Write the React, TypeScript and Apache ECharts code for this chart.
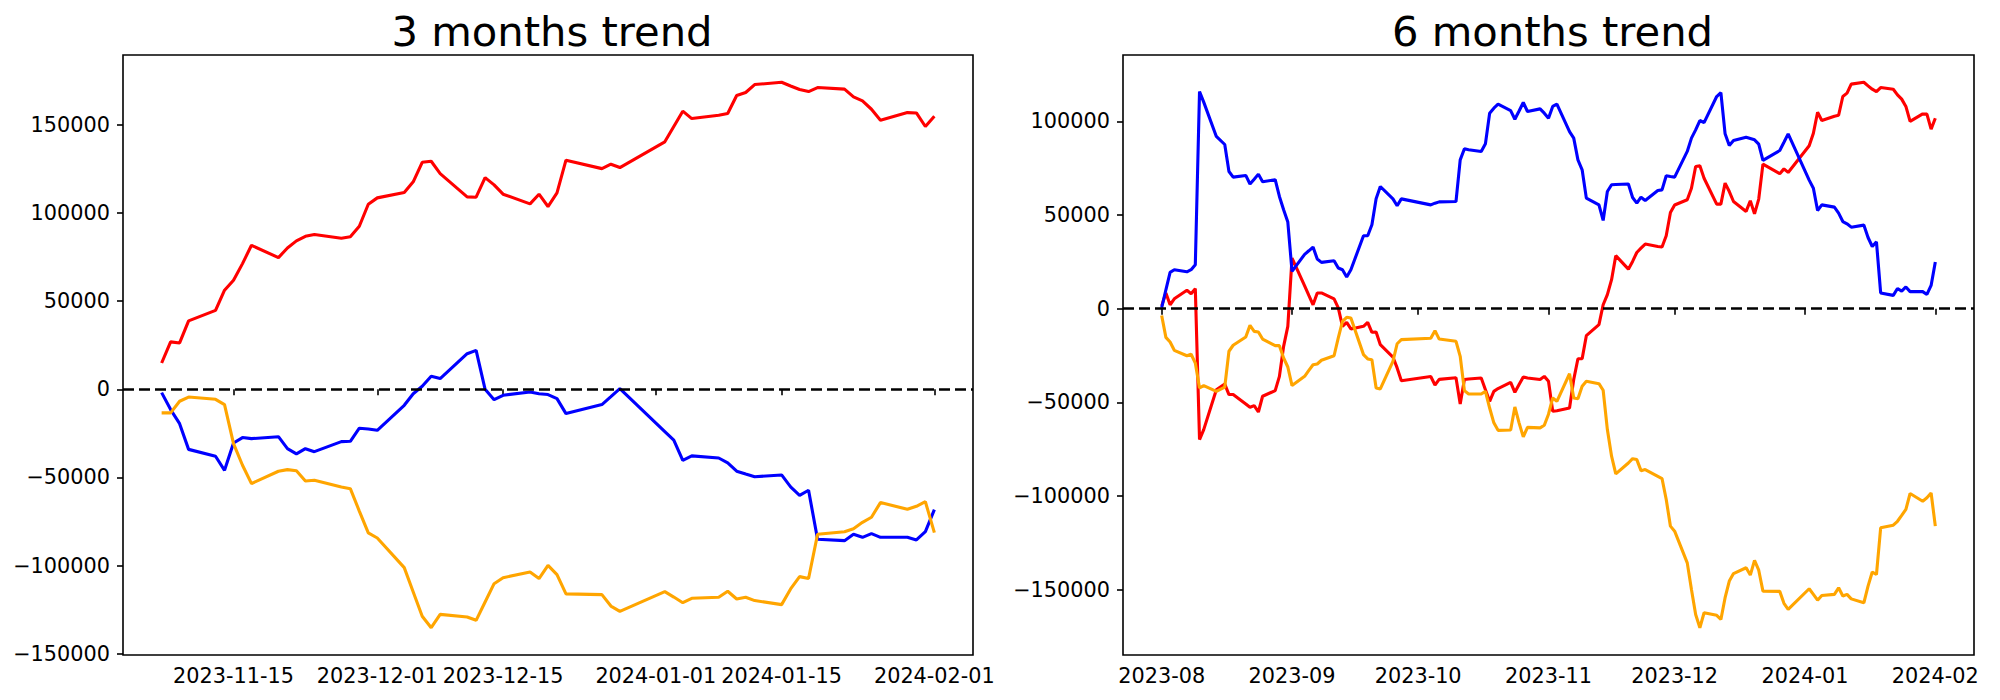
import React, { useEffect, useRef } from "react";
import * as echarts from "echarts";

// ---------- 3 months panel ----------
const leftDates = [
  "2023-11-07", "2023-11-08", "2023-11-09", "2023-11-10", "2023-11-13", "2023-11-14", "2023-11-15", "2023-11-16", "2023-11-17",
  "2023-11-20", "2023-11-21", "2023-11-22", "2023-11-23", "2023-11-24", "2023-11-27", "2023-11-28", "2023-11-29", "2023-11-30",
  "2023-12-01", "2023-12-04", "2023-12-05", "2023-12-06", "2023-12-07", "2023-12-08", "2023-12-11", "2023-12-12", "2023-12-13",
  "2023-12-14", "2023-12-15", "2023-12-18", "2023-12-19", "2023-12-20", "2023-12-21", "2023-12-22", "2023-12-26", "2023-12-27",
  "2023-12-28", "2024-01-02", "2024-01-03", "2024-01-04", "2024-01-05", "2024-01-08", "2024-01-09", "2024-01-10", "2024-01-11",
  "2024-01-12", "2024-01-15", "2024-01-16", "2024-01-17", "2024-01-18", "2024-01-19", "2024-01-22", "2024-01-23", "2024-01-24",
  "2024-01-25", "2024-01-26", "2024-01-29", "2024-01-30", "2024-01-31", "2024-02-01",
];
const leftRed = [
  14900, 26900, 26300, 38800, 44800, 56200, 61900, 71300, 81700, 74700, 80200, 84200, 86800, 87800, 85700, 86500, 92500, 105000,
  108600, 111600, 117700, 128800, 129400, 122400, 109200, 109000, 120100, 116000, 110700, 105200, 110700, 103700, 111400, 130000, 125200, 127700, 125800,
  140400, 149100, 157800, 153600, 155500, 156500, 166700, 168400, 172900, 174200, 172100, 170100, 168900, 171200, 170300, 165900, 163600, 158900, 152700, 157000, 156800, 149100,
  154900,
];
const leftBlue = [
  -1900, -11500, -19500, -34100, -38000, -46000, -30500, -27400, -28000, -26900, -33700, -36700, -33700, -35400, -29700, -29500, -22100, -22500,
  -23300, -9100, -2500, 1700, 7400, 6100, 20200, 22100, 0, -5900, -3400, -1500, -2500, -3000, -5300, -13800, -8700, -4200, 400,
  -24000, -28900, -40300, -37800, -39000, -41800, -46500, -48100, -49600, -48600, -55400, -60200, -57300, -85100, -85900, -82300, -84000, -81900, -84000, -84000, -85500, -80800,
  -68300,
];
const leftOrange = [
  -13400, -13400, -6800, -4400, -5700, -8700, -30800, -43100, -53500, -46500, -45600, -46200, -52000, -51600, -55400, -56400, -69100, -81500,
  -84400, -101200, -115000, -128800, -135300, -127700, -129200, -131100, -120700, -110300, -106900, -103700, -107400, -99900, -105200, -116100, -116500, -123000, -126000,
  -114800, -117900, -121100, -118600, -118000, -114600, -119000, -118000, -119900, -122200, -113300, -106300, -107400, -82300, -80800, -79100, -75500, -72600, -64300, -68100, -66400, -63800,
  -81300,
];
const leftXTicks = ["2023-11-15", "2023-12-01", "2023-12-15", "2024-01-01", "2024-01-15", "2024-02-01"];
const leftYTicks = [-150000, -100000, -50000, 0, 50000, 100000, 150000];

// ---------- 6 months panel ----------
const rightDates = [
  "2023-08-01", "2023-08-02", "2023-08-03", "2023-08-04", "2023-08-07", "2023-08-08", "2023-08-09", "2023-08-10", "2023-08-11",
  "2023-08-14", "2023-08-16", "2023-08-17", "2023-08-18", "2023-08-21", "2023-08-22", "2023-08-23", "2023-08-24", "2023-08-25",
  "2023-08-28", "2023-08-29", "2023-08-30", "2023-08-31",
  "2023-09-01", "2023-09-04", "2023-09-05", "2023-09-06", "2023-09-07", "2023-09-08", "2023-09-11", "2023-09-12", "2023-09-13",
  "2023-09-14", "2023-09-15", "2023-09-18", "2023-09-19", "2023-09-20", "2023-09-21", "2023-09-22", "2023-09-25", "2023-09-26",
  "2023-09-27",
  "2023-10-04", "2023-10-05", "2023-10-06", "2023-10-10", "2023-10-11", "2023-10-12", "2023-10-13", "2023-10-16", "2023-10-17",
  "2023-10-18", "2023-10-19", "2023-10-20", "2023-10-23", "2023-10-24", "2023-10-25", "2023-10-26", "2023-10-27", "2023-10-30",
  "2023-10-31",
  "2023-11-01", "2023-11-02", "2023-11-03", "2023-11-06", "2023-11-07", "2023-11-08", "2023-11-09", "2023-11-10", "2023-11-13",
  "2023-11-14", "2023-11-15", "2023-11-16", "2023-11-17", "2023-11-20", "2023-11-21", "2023-11-22", "2023-11-23", "2023-11-24",
  "2023-11-27", "2023-11-28", "2023-11-29", "2023-11-30",
  "2023-12-01", "2023-12-04", "2023-12-05", "2023-12-06", "2023-12-07", "2023-12-08", "2023-12-11", "2023-12-12", "2023-12-13",
  "2023-12-14", "2023-12-15", "2023-12-18", "2023-12-19", "2023-12-20", "2023-12-21", "2023-12-22", "2023-12-26", "2023-12-27",
  "2023-12-28",
  "2024-01-02", "2024-01-03", "2024-01-04", "2024-01-05", "2024-01-08", "2024-01-09", "2024-01-10", "2024-01-11", "2024-01-12",
  "2024-01-15", "2024-01-16", "2024-01-17", "2024-01-18", "2024-01-19", "2024-01-22", "2024-01-23", "2024-01-24", "2024-01-25",
  "2024-01-26", "2024-01-29", "2024-01-30", "2024-01-31",
  "2024-02-01",
];
const rightBlue = [
  500, 10100, 19400, 20800, 19700, 20800, 23500, 115800, 110200, 91900, 87600, 73200, 70200, 71100, 66500, 69100, 71800, 67700, 68800, 59900, 52800, 46200,
  19900, 29000, 30900, 32900, 26500, 24700, 25600, 21700, 20800, 16900, 20800, 38900, 38900, 44800, 58600, 65200, 58600, 54900, 58600,
  55400, 56300, 57000, 57200, 79400, 85300, 84800, 83900, 88000, 104300, 107000, 109100, 105700, 101100, 105500, 110000, 105200, 106600, 104300,
  101600, 107900, 109100, 94500, 91000, 79400, 74100, 59000, 55400, 47100, 62500, 66100, 66300, 66500, 59300, 56300, 59500, 57700, 63100, 63400, 70900, 70500,
  70200, 83900, 91000, 95400, 100400, 99300, 113200, 115300, 93300, 87100, 89700, 91500, 90800, 90100, 87800, 79100, 84400, 88800, 93300,
  68600, 64300, 52400, 55400, 54200, 51000, 46500, 45300, 43500, 44600, 38000, 33200, 35700, 8400, 7100, 10800, 9400, 11600, 9100, 9100, 7600, 12400,
  24900,
];
const rightRed = [
  1500, 8400, 2100, 5300, 9800, 8000, 10700, -69800, -64500, -43200, -40200, -45800, -45800, -50800, -52600, -51700, -55100, -46700, -43700, -36100, -20100, -9400,
  27000, 12200, 7100, 2100, 8400, 8400, 5200, 400, -9400, -7300, -10800, -9400, -7300, -12600, -12400, -19200, -25800, -31600, -38400,
  -36200, -40700, -37700, -36800, -50800, -37800, -37500, -37000, -43200, -49400, -44100, -42600, -39300, -44600, -40500, -36400, -37000, -37800, -36100,
  -38700, -54700, -54400, -53000, -37800, -26700, -26700, -14400, -8500, 2100, 7500, 15500, 28300, 21100, 25200, 30000, 32300, 34500, 33200, 32900, 38900, 51300,
  55300, 58100, 64300, 75900, 76200, 69600, 55800, 55800, 67000, 62500, 57200, 51900, 57600, 50600, 58500, 77100, 72000, 74600, 72700,
  86900, 93600, 104800, 100400, 102700, 103200, 113200, 115000, 119800, 120800, 118900, 117100, 115800, 118000, 117100, 114100, 111800, 107900, 99900, 103900, 103800, 95800,
  101600,
];
const rightOrange = [
  -3600, -15300, -17800, -22200, -25100, -24300, -29000, -42300, -41000, -44100, -41800, -22700, -19500, -15100, -8900, -12100, -12400, -16200, -19700, -19700, -26300, -31100,
  -41000, -36100, -32900, -29900, -29500, -27500, -25100, -15600, -6800, -4600, -5000, -24500, -26800, -27200, -42300, -42800, -28100, -18700, -16500,
  -15800, -11700, -16200, -17400, -25400, -43700, -45500, -45500, -44100, -53000, -60900, -64900, -64700, -52400, -60900, -68400, -63300, -63600, -62200,
  -56300, -47600, -49400, -34700, -47600, -48000, -41400, -38700, -40000, -43500, -64500, -78700, -88100, -82300, -80000, -80500, -86400, -85800, -89400, -90600, -101800, -116000,
  -118700, -135600, -149800, -163100, -170200, -162200, -163600, -165800, -154200, -145300, -141300, -138200, -142100, -134300, -139500, -150700, -150800, -157200, -160400,
  -149400, -152400, -155500, -153000, -152400, -148900, -153300, -152400, -154800, -156900, -148000, -140500, -141800, -116900, -115500, -113400, -110300, -107100, -98600, -102700, -100900, -98300,
  -116000,
];
const rightXTicks = ["2023-08", "2023-09", "2023-10", "2023-11", "2023-12", "2024-01", "2024-02"];
const rightYTicks = [-150000, -100000, -50000, 0, 50000, 100000];

const titles = ["3 months trend", "6 months trend"];
const seriesColors = ["#ff0000", "#0000ff", "#ffa500"];

function toTs(s: string): number {
  const p = s.split("-").map(Number);
  return new Date(p[0], (p[1] || 1) - 1, p[2] || 1).getTime();
}

function padRange(lo: number, hi: number): [number, number] {
  const pad = (hi - lo) * 0.05;
  return [lo - pad, hi + pad];
}

const FONT = "DejaVu Sans";

function buildPanel(
  idx: number,
  dates: string[],
  red: number[],
  blue: number[],
  orange: number[],
  xTicks: string[],
  yTicks: number[]
) {
  const ts = dates.map(toTs);
  const [xMin, xMax] = padRange(ts[0], ts[ts.length - 1]);
  const all = red.concat(blue, orange);
  const [yMin, yMax] = padRange(Math.min(...all), Math.max(...all));
  const tickTs = xTicks.map(toTs);
  const labelMap = new Map<number, string>();
  tickTs.forEach((t, i) => labelMap.set(t, xTicks[i]));

  const xAxis = {
    type: "value",
    gridIndex: idx,
    min: xMin,
    max: xMax,
    splitLine: { show: false },
    axisLine: { show: false },
    axisTick: {
      show: true,
      customValues: tickTs,
      length: 6,
      lineStyle: { color: "#000", width: 1.6 },
    },
    axisLabel: {
      customValues: tickTs,
      formatter: (v: number) => labelMap.get(v) ?? "",
      fontSize: 20.8,
      fontFamily: FONT,
      color: "#000",
      margin: 10,
      hideOverlap: false,
    },
  };
  const yAxis = {
    type: "value",
    gridIndex: idx,
    min: yMin,
    max: yMax,
    splitLine: { show: false },
    axisLine: { show: false },
    axisTick: {
      show: true,
      customValues: yTicks,
      length: 6,
      lineStyle: { color: "#000", width: 1.6 },
    },
    axisLabel: {
      customValues: yTicks,
      formatter: (v: number) => (v < 0 ? "\u2212" + String(Math.abs(v)) : String(v)),
      fontSize: 20.8,
      fontFamily: FONT,
      color: "#000",
      margin: 13,
    },
  };
  const values = [red, blue, orange];
  const series: any[] = values.map((vals, k) => ({
    type: "line",
    xAxisIndex: idx,
    yAxisIndex: idx,
    data: ts.map((t, i) => [t, vals[i]]),
    symbol: "none",
    lineStyle: { color: seriesColors[k], width: 3.1 },
    itemStyle: { color: seriesColors[k] },
    z: 2 + k,
  }));
  series.push({
    type: "line",
    xAxisIndex: idx,
    yAxisIndex: idx,
    data: [],
    z: 6,
    markLine: {
      silent: true,
      symbol: ["none", "none"],
      label: { show: false },
      lineStyle: { color: "#000", type: [11, 5], width: 2.6 },
      data: [{ yAxis: 0 }],
    },
  });
  return { xAxis, yAxis, series };
}

export default function App() {
  const ref = useRef<HTMLDivElement>(null);
  useEffect(() => {
    if (!ref.current) return;
    const chart = echarts.init(ref.current, undefined, { renderer: "svg" });
    const p1 = buildPanel(0, leftDates, leftRed, leftBlue, leftOrange, leftXTicks, leftYTicks);
    const p2 = buildPanel(1, rightDates, rightRed, rightBlue, rightOrange, rightXTicks, rightYTicks);
    const grids = [
      { left: 123, top: 55, width: 850, height: 600 },
      { left: 1123, top: 55, width: 851, height: 600 },
    ];
    chart.setOption({
      animation: false,
      backgroundColor: "#fff",
      title: titles.map((t, i) => ({
        text: t,
        left: grids[i].left + grids[i].width / 2 - 1,
        top: 5,
        textAlign: "center",
        textStyle: { fontSize: 41.7, fontWeight: "normal", fontFamily: FONT, color: "#000" },
      })),
      grid: grids.map((g) => ({
        ...g,
        show: true,
        borderColor: "#000",
        borderWidth: 1.6,
        backgroundColor: "transparent",
        containLabel: false,
      })),
      xAxis: [p1.xAxis, p2.xAxis],
      yAxis: [p1.yAxis, p2.yAxis],
      series: [...p1.series, ...p2.series],
    });
    return () => chart.dispose();
  }, []);
  return (
    <div
      ref={ref}
      style={{ position: "fixed", left: 0, top: 0, width: 2000, height: 700, background: "#fff" }}
    />
  );
}
